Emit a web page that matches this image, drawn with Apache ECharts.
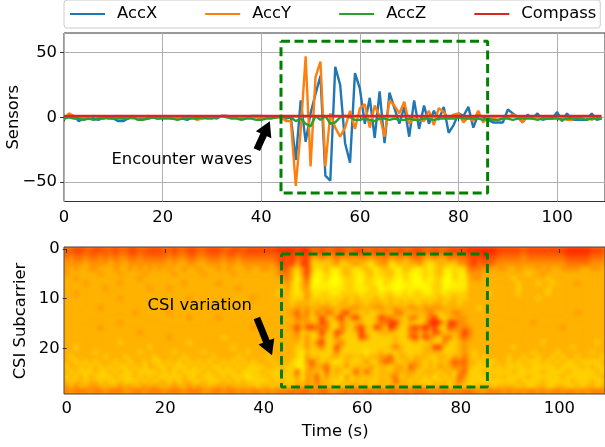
<!DOCTYPE html>
<html>
<head>
<meta charset="utf-8">
<style>
  html, body { margin: 0; padding: 0; background: #fff; }
  #page { position: relative; width: 605px; height: 447px; overflow: hidden; }
  /* the heat image sits under the axes and gets the soft look of imshow */
  #heatClip { position: absolute; left: 64px; top: 247px; width: 541px; height: 147px; overflow: hidden; background: #ffa000; }
  #heat { width: 541px; height: 147px; filter: blur(2px); }
  #main { position: absolute; left: 0; top: 0; width: 605px; height: 447px; }
</style>
<script src="https://cdn.jsdelivr.net/npm/echarts@6/dist/echarts.min.js"></script>
</head>
<body>
<div id="page">
  <div id="heatClip"><div id="heat"></div></div>
  <div id="main"></div>
</div>
<script>
const seriesNames = ["AccX", "AccY", "AccZ", "Compass"];
const seriesColors = ["#1f77b4", "#ff7f0e", "#2ca02c", "#d62728"];

const accX = [
  0, 1, 1, -3, -1, 1, -1, -2, 0, -1, -1, -3, -3, -1, 1, 0, -1, -1, 0, -1, 0, 0, -1, 0, -1, -2, 0, -1, -1, 0,
  0, -1, 1, 1, 0, 0, -1, 0, 1, 1, 1, 0, 0, 0, 0, -1, 0, -33, 13, -19, 3, 18, 32, -45, -49, 39, 25, -20, -35, 34,
  22, -5, 15, -16, 20, -20, 19, 7, -5, 8, -15, 13, -9, 9, -5, 5, -2, 8, -12, -6, 3, 1, 8, -8, 2, 0, -2, -4, -4, -4,
  6, 3, 0, -4, 2, -1, 3, -2, -1, -1, 4, -3, 3, -2, -2, -2, -2, 3, -2, -1,
];
const accY = [
  -2, 3, 1, -1, 0, 0, 1, 0, -1, 0, 0, 0, -1, 0, -1, 0, 0, 1, 0, 0, 0, 0, 0, -1, 0, 0, 0, -2, -1, 0,
  0, 0, 1, 1, 0, 0, 0, 0, 0, 0, -1, 0, 0, 0, 0, -3, -3, -53, -10, 47, -38, 31, 43, -38, 3, -8, -15, -8, 5, -9,
  7, 10, -8, 9, 1, -15, 13, 9, 3, 12, -5, -1, -2, -3, 5, -6, 7, 4, -1, 2, 3, -4, 0, -3, 5, -4, 0, -1, -2, -1,
  0, 2, 0, -4, 1, -1, 0, -1, 0, -1, 0, 0, -2, -2, 0, -1, 1, -2, 0, 0,
];
const accZ = [
  -1, 0, -1, -1, -2, -1, -2, -1, -1, 0, -1, -1, -1, -1, 0, -2, -2, -1, 0, -1, -1, -1, -1, -2, -1, -1, -1, -1, 0, -1,
  -1, 0, 1, 0, -1, -1, -2, -1, -1, -2, -2, -1, -1, 0, 1, 0, 0, -3, -1, -5, -7, 1, -2, 1, -5, -4, 0, 1, 0, -2,
  -2, -1, -2, -3, -1, -1, -2, -1, -2, -2, -1, -2, -2, -1, -1, -2, -1, -1, -1, -1, 0, -1, -1, -1, -1, -2, -1, -2, -2, -1,
  -1, -2, -1, -1, -1, -1, -2, -1, -1, -1, -1, -2, -1, -1, -1, -1, -2, -1, -1, -1,
];
const compass = [
  1, 1, 1, 1, 1, 1, 1, 1, 1, 1, 1, 1, 1, 1, 1, 1, 1, 1, 1, 1, 1, 1, 1, 1, 1, 1, 1, 1, 1, 1,
  1, 1, 1, 1, 1, 1, 1, 1, 1, 1, 1, 1, 1, 1, 1, 1, 1, 1, 1, 1, 1, 1, 1, 1, 1, 1, 1, 1, 1, 1,
  1, 1, 1, 1, 1, 1, 1, 1, 1, 1, 1, 1, 1, 1, 1, 1, 1, 1, 1, 1, 1, 1, 1, 1, 1, 1, 1, 1, 1, 1,
  1, 1, 1, 1, 1, 1, 1, 1, 1, 1, 1, 1, 1, 1, 1, 1, 1, 1, 1, 1,
];

// one line per subcarrier, one digit per second, 0 = red ... 9 = yellow
const csiRows = [
  "3322332233 2332233222 3323322332 2233223222 2221111211 3323322332 2332323323 3223323322 2211111122 2223222222 2211111222",
  "3433433434 3443343333 3434433443 3343343333 3333222322 4434433443 3443434434 3334434433 3322212233 3334333333 3322222333",
  "4544544545 4554454444 4545544554 4454454444 4443232432 6656646556 5565546556 5446656645 4432323344 4445444444 4433333444",
  "5555655556 5565555555 5656655665 5565565555 5554232622 7777657765 6786558767 6657876677 5532433455 5555555555 5544444555",
  "5656655666 5665656565 6566566566 6565666566 5565336752 6876887678 7678767886 7887876887 8744455655 6656665656 6555566556",
  "5666666566 6566665666 6656666656 6666566666 6665446852 7987897678 8768776887 8987876897 8855566666 6666766566 6666666666",
  "6656666666 6666656666 6666666666 6666666666 6666546963 8987998778 9778877897 8997977997 8865566666 6766666676 6666666666",
  "6666566666 6566666666 6666566666 6566666666 6666657864 8988998778 8778978998 8998877998 8866666666 6676667667 6666566666",
  "6666666656 6666666566 6566666666 6666656666 6666757865 8888888778 8877988998 8889877988 8866666666 6676666676 6666666666",
  "6656666666 6666666666 6666666666 6666666666 6667667875 7877887777 8777877887 8778877877 7766667666 6676666676 6666666666",
  "6666666666 6566666666 6666656666 6666666656 6666667775 7777777676 7776776777 7777776776 7766666666 6666667666 6666666666",
  "6666666666 6666666666 6666666666 6656666666 6666667666 7676776676 6766676767 6776766766 7666666666 6666666666 6666666666",
  "6666666566 6666666666 6666666666 6666666666 6666666565 6655666655 6665566566 5565555666 6666766666 6666666666 6666666666",
  "6666666666 6666566666 6566666666 6666666666 6666665364 7464474266 7677667446 7666467664 5666666666 6666666666 6666566666",
  "6666666666 6666666666 6666656666 6566666666 6666666455 7626742742 6776244667 4476427766 5566666666 6666666666 6666666666",
  "6666666666 6566666666 6666666666 6666666666 6666666565 6624774676 6776442267 6776212722 5566666666 6666656666 6666666666",
  "6666666566 6666666666 6666666666 6666666656 6666665263 2444774674 2672471477 4241427724 5456666666 6666666666 6566666666",
  "6666666666 6666656666 6666666666 6666666666 6666666476 7626724776 2677666777 4464624766 5246666666 6666666666 6666666666",
  "6666666666 6666666666 6566666666 6676666666 6666666575 7747747777 2477777677 4262467447 5356666666 6666666666 6666666666",
  "6666666666 6766666666 6666676666 6666666666 6666666675 7427764777 7777777677 7677677477 6566666666 6666666766 6666666676",
  "6676666666 6666666766 6666666666 6666766666 6666666775 7647726777 7777776467 7776622777 6566666666 6766666666 6667666666",
  "6666667666 6666676666 6676666676 6666666766 6666666786 7777747777 7877677767 7776666777 6567666666 6666676666 7666666766",
  "6766666676 6676666676 6666766666 7666676666 6766666785 7677667667 6766553766 7666776675 6467676666 7667667667 6766766667",
  "6676767666 7667667677 6767676767 6676767676 6676667885 3676787677 7577534676 6567676753 4366767766 7676777676 7677677776",
  "7667676767 6776767667 7677767676 7767676777 7667677886 4653767576 6757677657 3567675664 5467777676 7777677777 6777767677",
  "6767776776 7677677776 7676777767 6777767777 6777677385 6673766863 7367667566 5676667667 5377767777 7677777677 7767777767",
  "7676767777 6777676767 7777677677 7676777877 7677777585 6375768576 6767675476 6767686767 3577777676 7777677777 7677777776",
  "6766766767 7677767676 6767667767 7767676777 7767677675 6466777676 7677667366 7677767676 4677777777 7767777677 7776777677",
  "5656655666 6565665656 6656656566 6565666667 6676767565 6566676756 6676675666 6666766676 6777666766 6676776677 6677676676",
  "4544454454 4455445444 5444544455 4454454544 5454443433 4433544343 4334343343 4333444344 4334554445 4545445454 4544545444",
];

const xTicks = [0, 20, 40, 60, 80, 100];
const sensorTicks = [-50, 0, 50];
const csiTicks = [0, 10, 20];

// dashed boxes: [time, value]
const sensorBox = [[44, 58.7], [85.9, 58.7], [85.9, -58.5], [44, -58.5], [44, 58.7]];
const csiBox = [[43.6, 1], [85.4, 1], [85.4, 27.8], [43.6, 27.8], [43.6, 1]];

const sensorArrow = [[39.1, -25], [41.1, -8.3]];
const csiArrow = [[38.6, 13.9], [41.1, 20]];
const sensorNote = { text: "Encounter waves", at: [23.9, -32.8] };
const csiNote = { text: "CSI variation", at: [27, 11.5] };

const FONT = "DejaVu Sans";
const FONT_SIZE = 16.4;
const cells = [];
csiRows.forEach((row, r) => {
  row.replace(/ /g, "").split("").forEach((d, i) => cells.push([i, r, +d]));
});

var heatChart = echarts.init(document.getElementById("heat"));
heatChart.setOption({
  animation: false,
  grid: { left: 0, right: 0, top: 0, bottom: 0, outerBoundsMode: "none" },
  xAxis: { type: "category", show: false, data: csiRows[0].replace(/ /g, "").split("").map((d, i) => i) },
  yAxis: { type: "category", show: false, inverse: true, data: csiRows.map((d, i) => i) },
  visualMap: { show: false, min: 0, max: 8.6, inRange: { color: ["#ff0000", "#ffff00"] } },
  series: [{ type: "heatmap", data: cells, progressive: 0 }],
});

function lineSeries(name, values, i) {
  return {
    name: name,
    type: "line",
    xAxisIndex: 0,
    yAxisIndex: 0,
    data: values.map((v, t) => [t, v]),
    showSymbol: false,
    lineStyle: { color: seriesColors[i], width: 2.4 },
    itemStyle: { color: seriesColors[i] },
    z: 3 + i,
  };
}

function boxSeries(points, axis) {
  return {
    type: "line",
    xAxisIndex: axis,
    yAxisIndex: axis,
    data: points,
    showSymbol: false,
    silent: true,
    lineStyle: { color: "#008000", width: 3, type: [9, 4.5] },
    z: 8,
  };
}

function noteSeries(note, arrow, axis) {
  return {
    type: "line",
    xAxisIndex: axis,
    yAxisIndex: axis,
    data: [note.at],
    symbolSize: 0,
    showSymbol: true,
    silent: true,
    label: {
      show: true,
      position: "inside",
      formatter: note.text,
      color: "#000",
      fontFamily: FONT,
      fontSize: FONT_SIZE,
    },
    markLine: {
      silent: true,
      animation: false,
      symbol: ["none", "triangle"],
      symbolSize: [17, 15],
      label: { show: false },
      lineStyle: { color: "#000", width: 7, type: "solid" },
      data: [[{ coord: arrow[0] }, { coord: arrow[1] }]],
    },
    z: 9,
  };
}

const tickLabel = {
  color: "#000",
  fontFamily: FONT,
  fontSize: FONT_SIZE,
  formatter: (v) => String(v).replace("-", "\u2212"),
};
const tickLine = { show: true, length: 4, lineStyle: { color: "#333", width: 1 } };
const nameStyle = { color: "#000", fontFamily: FONT, fontSize: FONT_SIZE };

var myChart = echarts.init(document.getElementById("main"));
myChart.setOption({
  animation: false,
  backgroundColor: "transparent",
  legend: {
    data: seriesNames,
    left: 64,
    top: 0,
    padding: [6, 4, 6, 6],
    itemGap: 48,
    itemWidth: 35,
    itemHeight: 2,
    icon: "rect",
    borderColor: "#ccc",
    borderWidth: 1,
    borderRadius: 3,
    textStyle: { color: "#000", fontFamily: FONT, fontSize: FONT_SIZE, padding: [0, 0, 0, 7] },
  },
  grid: [
    { left: 64, top: 33, width: 541, height: 168.5, outerBoundsMode: "none", show: true, borderColor: "#333", borderWidth: 1, backgroundColor: "transparent" },
    { left: 66.7, top: 249, width: 537, height: 144, outerBoundsMode: "none" },
    { left: 64, top: 247, width: 541, height: 147, outerBoundsMode: "none", show: true, borderColor: "#444", borderWidth: 1, backgroundColor: "transparent" },
  ],
  xAxis: [
    {
      type: "value", gridIndex: 0, min: 0, max: 109.7,
      axisLine: { show: false },
      axisTick: Object.assign({ customValues: xTicks }, tickLine),
      axisLabel: Object.assign({ margin: 8, customValues: xTicks }, tickLabel),
      splitLine: { show: true, lineStyle: { color: "#b0b0b0", width: 1 } },
    },
    {
      type: "value", gridIndex: 1, min: 0, max: 109,
      axisLine: { show: false },
      axisTick: Object.assign({ customValues: xTicks }, tickLine),
      axisLabel: Object.assign({ margin: 8, customValues: xTicks }, tickLabel),
      splitLine: { show: false },
      name: "Time (s)", nameLocation: "middle", nameGap: 31, nameMoveOverlap: false,
      nameTextStyle: nameStyle,
    },
  ],
  yAxis: [
    {
      type: "value", gridIndex: 0, min: -65, max: 65,
      axisLine: { show: false },
      axisTick: Object.assign({ customValues: sensorTicks }, tickLine),
      axisLabel: Object.assign({ margin: 7, customValues: sensorTicks }, tickLabel),
      splitLine: { show: true, lineStyle: { color: "#b0b0b0", width: 1 } },
      name: "Sensors", nameLocation: "middle", nameGap: 42, nameMoveOverlap: false,
      nameTextStyle: nameStyle,
    },
    {
      type: "value", gridIndex: 1, inverse: true, min: 0, max: 29,
      axisLine: { show: false },
      axisTick: Object.assign({ customValues: csiTicks }, tickLine),
      axisLabel: Object.assign({ margin: 7, customValues: csiTicks }, tickLabel),
      splitLine: { show: false },
      name: "CSI Subcarrier", nameLocation: "middle", nameGap: 38, nameMoveOverlap: false,
      nameTextStyle: nameStyle,
    },
  ],
  series: [
    lineSeries(seriesNames[0], accX, 0),
    lineSeries(seriesNames[1], accY, 1),
    lineSeries(seriesNames[2], accZ, 2),
    lineSeries(seriesNames[3], compass, 3),
    boxSeries(sensorBox, 0),
    boxSeries(csiBox, 1),
    noteSeries(sensorNote, sensorArrow, 0),
    noteSeries(csiNote, csiArrow, 1),
  ],
});
</script>
</body>
</html>
